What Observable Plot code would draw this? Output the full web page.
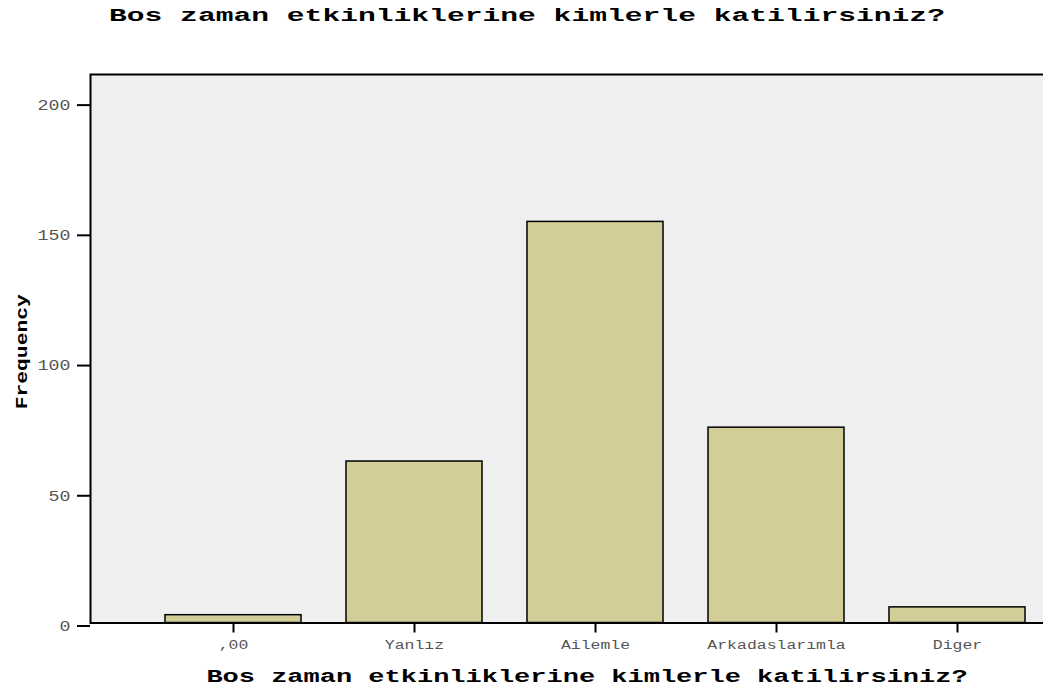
<!DOCTYPE html>
<html>
<head>
<meta charset="utf-8">
<script src="https://cdn.jsdelivr.net/npm/d3@7"></script>
<script src="https://cdn.jsdelivr.net/npm/@observablehq/plot@0.6"></script>
<style>
  html, body { margin: 0; padding: 0; background: #fff; overflow: hidden; width: 1043px; height: 693px; }
  #title { height: 30px; line-height: 32px; text-align: center; padding-left: 10px; white-space: nowrap; }
  #title span { display: inline-block; font-family: "Liberation Mono", monospace; font-weight: bold; font-size: 19px; color: #000; transform: scaleX(1.56); transform-origin: center; }
  svg { overflow: hidden !important; display: block; }
</style>
</head>
<body>
<div id="title"><span>Bos zaman etkinliklerine kimlerle katilirsiniz?</span></div>
<div id="chart"></div>
<script>
const categories = [",00", "Yanlız", "Ailemle", "Arkadaslarımla", "Diger"];
const frequencies = [3, 62, 154, 75, 6];
const yTicks = [0, 50, 100, 150, 200];
const xTitle = "Bos zaman etkinliklerine kimlerle katilirsiniz?";
const yTitle = "Frequency";

const data = categories.map((c, i) => ({cat: c, n: frequencies[i]}));

const chart = Plot.plot({
  width: 1043,
  height: 663,
  marginLeft: 90,
  marginRight: -56,
  marginTop: 44,
  marginBottom: 70.5,
  style: {background: "#fff", overflow: "hidden"},
  x: {domain: categories, range: [90, 1099], paddingInner: 0.25, paddingOuter: 0.4, align: 0.5},
  y: {domain: [0, 210.6]},
  marks: [
    Plot.frame({fill: "#efefef", stroke: null}),
    Plot.barY(data, {x: "cat", y: "n", fill: "#d3ce98", stroke: "#000", strokeWidth: 1.5}),
    Plot.frame({stroke: "#000", strokeWidth: 2}),
    Plot.axisY({
      ticks: yTicks, tickSize: 13, tickPadding: 7, stroke: "#000", strokeWidth: 2,
      fill: "#555", fontSize: 15, fontFamily: "Liberation Mono, monospace", dy: 3,
      label: yTitle, labelAnchor: "center", labelOffset: 76
    }),
    Plot.axisX({
      tickSize: 10, tickPadding: 6, stroke: "#000", strokeWidth: 2,
      fill: "#555", fontSize: 13.5, fontFamily: "Liberation Mono, monospace",
      label: xTitle, labelAnchor: "center", labelOffset: 59
    })
  ]
});

document.getElementById("chart").appendChild(chart);

function stretch(selector, sx, pre) {
  chart.querySelectorAll(selector).forEach(t => {
    const tr = t.getAttribute("transform") || "";
    t.setAttribute("transform", (pre || "") + tr + ` scale(${sx},1)`);
  });
}
const yl = chart.querySelector('g[aria-label="y-axis label"] text');
if (yl) { yl.textContent = yTitle; yl.setAttribute("font-weight", "bold"); yl.setAttribute("fill", "#000"); yl.setAttribute("font-size", "17"); yl.setAttribute("font-family", "Liberation Mono, monospace"); }
const xl = chart.querySelector('g[aria-label="x-axis label"] text');
if (xl) { xl.textContent = xTitle; xl.setAttribute("font-weight", "bold"); xl.setAttribute("fill", "#000"); xl.setAttribute("font-size", "18"); xl.setAttribute("font-family", "Liberation Mono, monospace"); }
stretch('g[aria-label="y-axis tick label"] text', 1.22);
stretch('g[aria-label="x-axis tick label"] text', 1.22);
stretch('g[aria-label="y-axis label"] text', 1.255, "translate(0,3) ");
stretch('g[aria-label="x-axis label"] text', 1.5, "translate(-8,0) ");
</script>
</body>
</html>
